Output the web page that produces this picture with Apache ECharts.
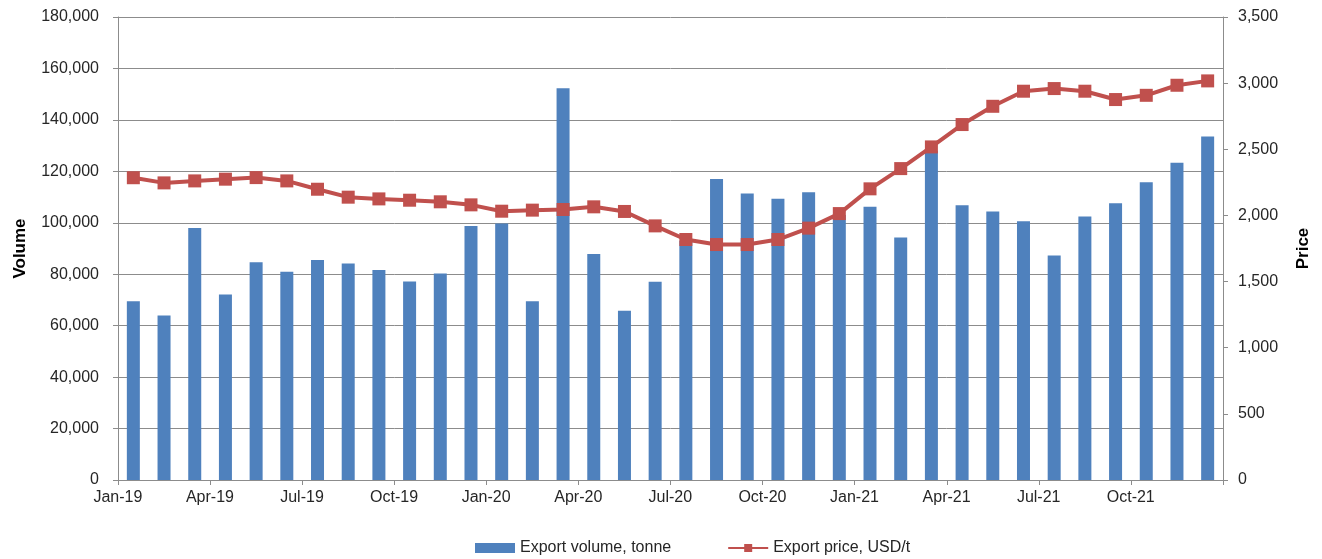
<!DOCTYPE html>
<html>
<head>
<meta charset="utf-8">
<script src="https://cdn.jsdelivr.net/npm/echarts@6/dist/echarts.min.js"></script>
<style>
html,body{margin:0;padding:0;background:#fff;}
#chart{width:1322px;height:559px;}
</style>
</head>
<body>
<div id="chart"></div>
<script>
const months = ['Jan-19','Feb-19','Mar-19','Apr-19','May-19','Jun-19','Jul-19','Aug-19','Sep-19','Oct-19','Nov-19','Dec-19',
  'Jan-20','Feb-20','Mar-20','Apr-20','May-20','Jun-20','Jul-20','Aug-20','Sep-20','Oct-20','Nov-20','Dec-20',
  'Jan-21','Feb-21','Mar-21','Apr-21','May-21','Jun-21','Jul-21','Aug-21','Sep-21','Oct-21','Nov-21','Dec-21'];
const exportVolume = [69500,64000,98000,72100,84700,81000,85500,84200,81600,77200,80300,98700,
  99700,69500,152300,87900,65800,77100,93000,117000,111400,109300,111900,103000,
  106200,94300,128000,106800,104400,100600,87300,102400,107600,115800,123300,133500];
const exportPrice = [2285,2246,2261,2274,2286,2261,2198,2138,2125,2115,2103,2080,
  2032,2040,2045,2065,2030,1921,1818,1780,1780,1818,1904,2014,
  2201,2354,2518,2687,2825,2939,2959,2939,2876,2908,2984,3017];
const volumeTicks = {min:0, max:180000, interval:20000};
const priceTicks = {min:0, max:3500, interval:500};

const txt = '#262626';
const font = 'Liberation Sans, Arial, sans-serif';
const gridColor = '#8c8c8c';
const chart = echarts.init(document.getElementById('chart'), null, {renderer:'canvas'});
const fmt = v => v.toLocaleString('en-US');
chart.setOption({
  animation:false,
  textStyle:{fontFamily:font},
  grid:{left:118, right:99, top:17, bottom:79, containLabel:false},
  legend:{
    left:470, top:535, itemWidth:40, itemHeight:10, itemGap:56,
    textStyle:{color:txt, fontSize:16, fontFamily:font},
    data:[{name:'Export volume, tonne', icon:'rect'},{name:'Export price, USD/t'}]
  },
  xAxis:{
    type:'category', data:months, boundaryGap:true,
    axisLine:{lineStyle:{color:gridColor, width:1}},
    axisTick:{show:true, interval:2, length:5, lineStyle:{color:gridColor}},
    axisLabel:{interval:2, color:txt, fontSize:16, fontFamily:font, margin:10, padding:[0,31,0,0]}
  },
  yAxis:[{
    type:'value', min:volumeTicks.min, max:volumeTicks.max, interval:volumeTicks.interval,
    name:'Volume', nameLocation:'middle', nameGap:89,
    nameTextStyle:{color:'#000', fontSize:17, fontWeight:'bold', fontFamily:font},
    axisLine:{show:true, lineStyle:{color:gridColor}},
    axisTick:{show:true, length:5, lineStyle:{color:gridColor}},
    axisLabel:{color:txt, fontSize:16, fontFamily:font, margin:19, formatter:fmt},
    splitLine:{show:true, lineStyle:{color:gridColor, width:1}}
  },{
    type:'value', min:priceTicks.min, max:priceTicks.max, interval:priceTicks.interval,
    name:'Price', nameLocation:'middle', nameGap:72,
    nameTextStyle:{color:'#000', fontSize:17, fontWeight:'bold', fontFamily:font},
    axisLine:{show:true, lineStyle:{color:gridColor}},
    axisTick:{show:true, length:5, lineStyle:{color:gridColor}},
    axisLabel:{color:txt, fontSize:16, fontFamily:font, margin:15, formatter:fmt},
    splitLine:{show:false}
  }],
  series:[{
    name:'Export volume, tonne', type:'bar', data:exportVolume, yAxisIndex:0,
    barWidth:13, itemStyle:{color:'#4F81BD'}
  },{
    name:'Export price, USD/t', type:'line', data:exportPrice, yAxisIndex:1,
    symbol:'rect', symbolSize:13, showAllSymbol:true,
    lineStyle:{color:'#C0504D', width:4},
    itemStyle:{color:'#C0504D'}, z:5
  }]
});
</script>
</body>
</html>
